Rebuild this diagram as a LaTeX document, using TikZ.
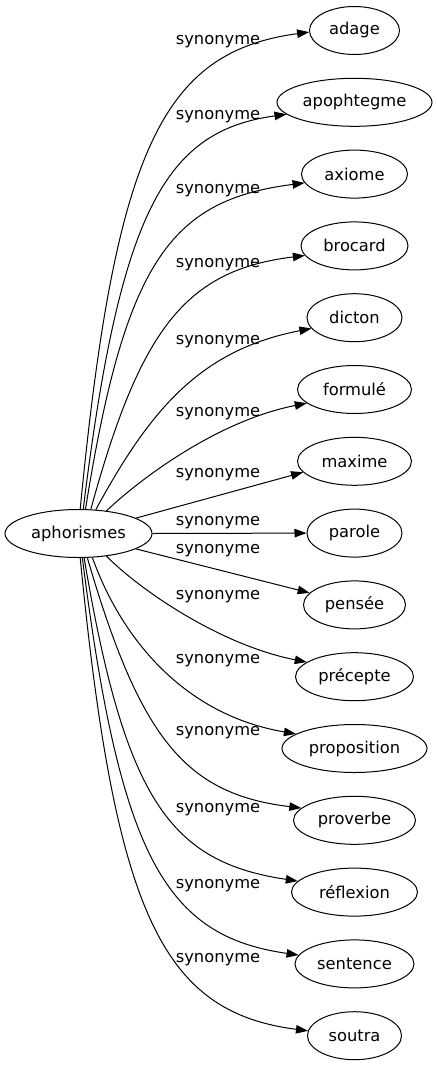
\documentclass[tikz,border=0pt]{standalone}
\usepackage{fontspec}
\setmainfont{DejaVu Sans}
\usetikzlibrary{arrows.meta,shapes.geometric}
\begin{document}
\begin{tikzpicture}[x=1bp,y=-1bp,
  word/.style={draw, ellipse, line width=1bp, inner sep=0pt, minimum height=48bp,
    font=\fontsize{16.3bp}{19bp}\selectfont},
  lab/.style={inner sep=0pt, font=\fontsize{16.3bp}{19bp}\selectfont},
  syn/.style={line width=1bp, -{Triangle[length=12bp,width=8.5bp]}}]
\useasboundingbox (0,0) rectangle (437,1067);
\node[word, minimum width=147bp] (c) at (78.5,533.5) {aphorismes};
\node[word, minimum width=90bp]  (n1)  at (354.5,30.5)   {adage};
\node[word, minimum width=155bp] (n2)  at (354.5,102.3)  {apophtegme};
\node[word, minimum width=106bp] (n3)  at (354.5,174.1)  {axiome};
\node[word, minimum width=107bp] (n4)  at (354.5,245.9)  {brocard};
\node[word, minimum width=95bp]  (n5)  at (354.5,317.7)  {dicton};
\node[word, minimum width=114bp] (n6)  at (354.5,389.5)  {formulé};
\node[word, minimum width=114bp] (n7)  at (354.5,461.3)  {maxime};
\node[word, minimum width=95bp]  (n8)  at (354.5,533.1)  {parole};
\node[word, minimum width=102bp] (n9)  at (354.5,604.9)  {pensée};
\node[word, minimum width=118bp] (n10) at (354.5,676.7)  {précepte};
\node[word, minimum width=145bp] (n11) at (354.5,748.5)  {proposition};
\node[word, minimum width=122bp] (n12) at (354.5,820.3)  {proverbe};
\node[word, minimum width=126bp] (n13) at (354.5,892.1)  {réflexion};
\node[word, minimum width=119bp] (n14) at (354.5,963.9)  {sentence};
\node[word, minimum width=94bp]  (n15) at (354.5,1035.7) {soutra};

\node[lab] (l1)  at (218,41.7)  {synonyme};
\node[lab] (l2)  at (218,116.7) {synonyme};
\node[lab] (l3)  at (218,190.7) {synonyme};
\node[lab] (l4)  at (218,265)   {synonyme};
\node[lab] (l5)  at (218,341.7) {synonyme};
\node[lab] (l6)  at (218,413.3) {synonyme};
\node[lab] (l7)  at (218,475)   {synonyme};
\node[lab] (l8)  at (218,522.7) {synonyme};
\node[lab] (l9)  at (218,550.3) {synonyme};
\node[lab] (l10) at (218,597)   {synonyme};
\node[lab] (l11) at (218,660.7) {synonyme};
\node[lab] (l12) at (218,732.7) {synonyme};
\node[lab] (l13) at (218,809.3) {synonyme};
\node[lab] (l14) at (218,886)   {synonyme};
\node[lab] (l15) at (218,960)   {synonyme};

\draw[syn] (c.86) .. controls (115,150) and (162,52) .. (n1.182);
\draw[syn] (c.79) .. controls (120,211) and (165,131) .. (n2.190);
\draw[syn] (c.74) .. controls (125,262) and (170,200) .. (n3.190);
\draw[syn] (c.63) .. controls (140,330) and (185,270) .. (n4.191);
\draw[syn] (c.54) .. controls (150,410) and (200,350) .. (n5.194);
\draw[syn] (c.39) .. controls (140,479) and (217,421) .. (n6.196);
\draw[syn] (c.15) -- (n7.192);
\draw[syn] (c.east) -- (n8.west);
\draw[syn] (c.-15) -- (n9.165);
\draw[syn] (c.-39) .. controls (140,590) and (220,645) .. (n10.163);
\draw[syn] (c.-60) .. controls (122,640) and (185,715) .. (n11.166);
\draw[syn] (c.-70) .. controls (140,738) and (185,794) .. (n12.167);
\draw[syn] (c.-77) .. controls (125,800) and (170,862) .. (n13.169);
\draw[syn] (c.-81) .. controls (120,856) and (165,936) .. (n14.171);
\draw[syn] (c.-86) .. controls (115,914) and (162,1012) .. (n15.174);
\end{tikzpicture}
\end{document}
